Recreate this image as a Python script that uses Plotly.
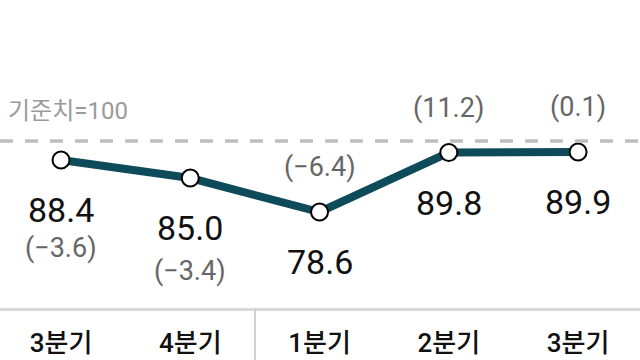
import plotly.graph_objects as go

quarters = ["3분기", "4분기", "1분기", "2분기", "3분기"]
values = [88.4, 85.0, 78.6, 89.8, 89.9]
changes = ["(−3.6)", "(−3.4)", "(−6.4)", "(11.2)", "(0.1)"]
change_above = [False, False, True, True, True]
baseline_label = "기준치=100"

xs = list(range(len(quarters)))
FONT = "Roboto, 'Noto Sans CJK KR', sans-serif"

fig = go.Figure()
fig.add_trace(go.Scatter(
    x=xs, y=values, mode="lines+markers",
    line=dict(color="#0E4B5A", width=8),
    marker=dict(size=17, color="white", line=dict(color="black", width=2)),
    hoverinfo="skip", showlegend=False,
))

annotations = []
for i, (v, c, up) in enumerate(zip(values, changes, change_above)):
    annotations.append(dict(x=i, y=v, xref="x", yref="y", text=f"{v:.1f}",
                            showarrow=False, yshift=-50,
                            font=dict(family=FONT, size=34, color="#111111")))
    annotations.append(dict(x=i, y=v, xref="x", yref="y", text=c,
                            showarrow=False, yshift=45 if up else (-88 if i == 0 else -93),
                            font=dict(family=FONT, size=27, color="#666666")))
annotations.append(dict(x=0, y=1 - 111 / 308, xref="paper", yref="paper", text=baseline_label,
                        xanchor="left", xshift=6, showarrow=False,
                        font=dict(family=FONT, size=24, color="#9a9a9a")))

shapes = [
    dict(type="line", xref="paper", yref="paper", x0=0, x1=1,
         y0=1 - 141 / 308, y1=1 - 141 / 308,
         line=dict(color="#bdbdbd", width=3.5, dash="13px,12px")),
    dict(type="line", xref="x", yref="paper", x0=1.5, x1=1.5, y0=0, y1=-0.2,
         line=dict(color="#cfcfcf", width=2)),
]

fig.update_layout(
    width=640, height=360,
    margin=dict(l=0, r=0, t=0, b=52, autoexpand=False),
    paper_bgcolor="white", plot_bgcolor="white",
    annotations=annotations, shapes=shapes,
    xaxis=dict(range=[-0.472, 4.479], tickvals=xs, ticktext=quarters,
               automargin=False,
               showgrid=False, zeroline=False, showline=True,
               linecolor="#d9d9d9", linewidth=3, ticks="",
               ticklabelstandoff=10,
               tickfont=dict(family=FONT, size=26, color="#111111", weight=500)),
    yaxis=dict(range=[60.51, 118.55], visible=False, automargin=False),
)

fig.write_html("out.html", config={"displayModeBar": False, "staticPlot": True},
               post_script="document.body.style.margin='0';document.body.style.overflow='hidden';")
